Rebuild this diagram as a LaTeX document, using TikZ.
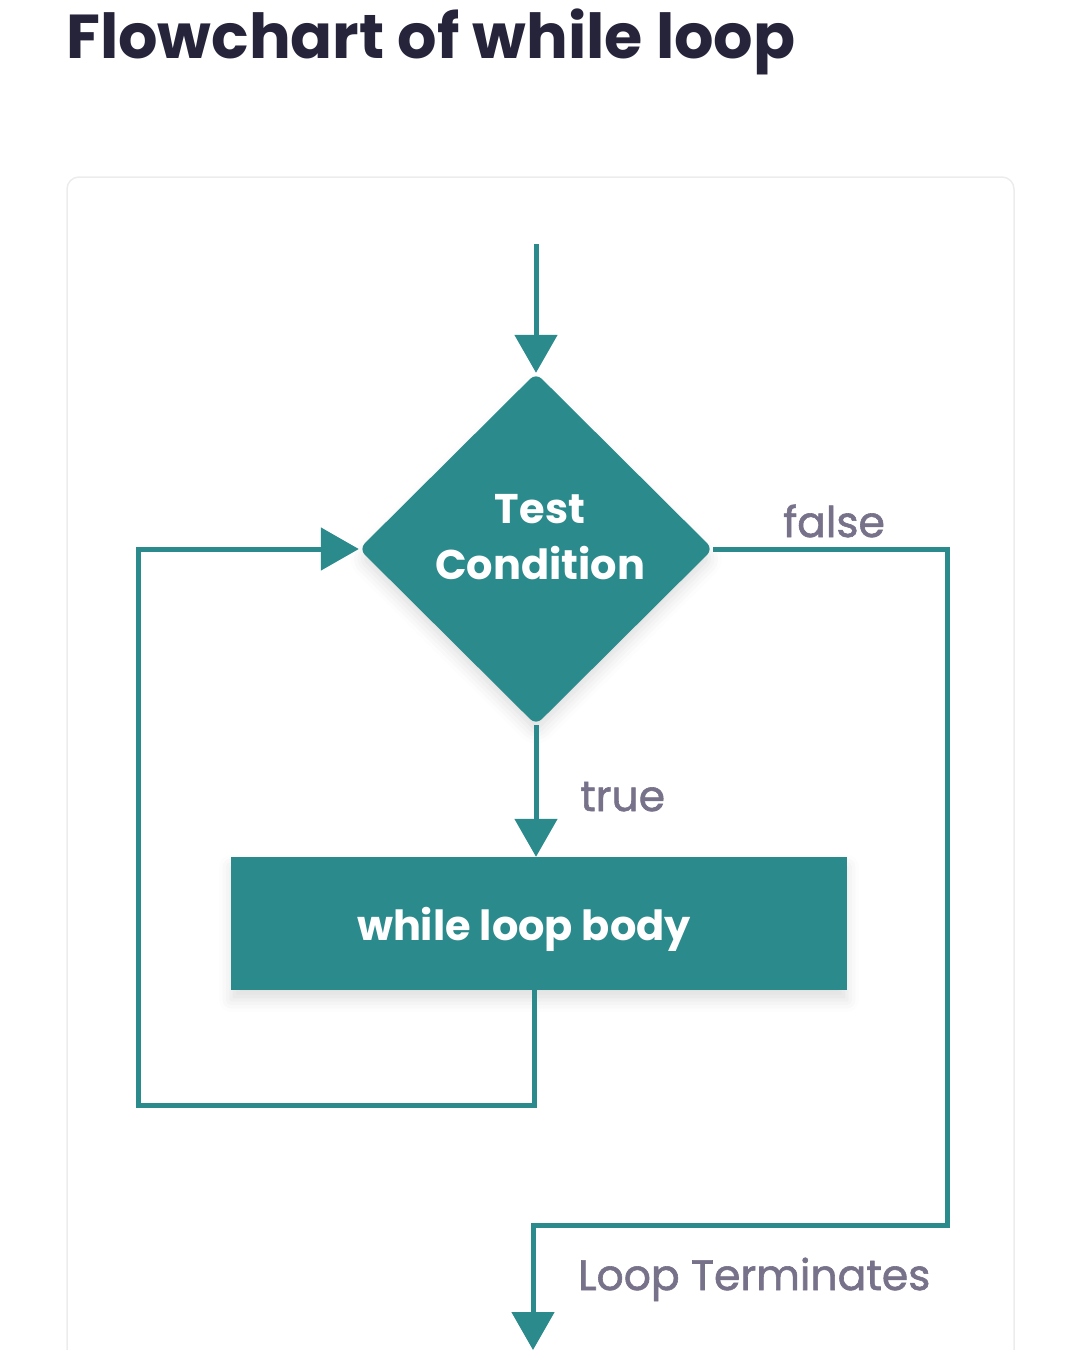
\documentclass[tikz,border=0pt]{standalone}
\usepackage{fontspec}
\setmainfont{Poppins}
\newfontfamily\popmed{Poppins}[FakeBold=1.4]
\usetikzlibrary{arrows.meta, shapes.geometric, positioning, shadows.blur}
\definecolor{loopteal}{HTML}{2B8A8B}
\definecolor{labelgray}{HTML}{77718A}
\definecolor{titleink}{HTML}{25243A}
\definecolor{framegray}{HTML}{ECECEC}

\begin{document}
\begin{tikzpicture}[x=1pt, y=-1pt,
    flow/.style={draw=loopteal, line width=5pt},
    arr/.style={flow, -{Triangle[length=38pt, width=42pt]}},
    soft/.style={blur shadow={shadow xshift=0pt, shadow yshift=-10pt, shadow blur radius=12pt, shadow opacity=12}},
    whitetext/.style={text=white, font=\fontsize{41.5}{56}\selectfont\bfseries, inner sep=0pt, align=center},
    lbl/.style={text=labelgray, font=\fontsize{42.5}{50}\popmed, inner sep=0pt}]

      \path[use as bounding box] (0,0) rectangle (1080,1350);
      \begin{scope}
      \clip (0,0) rectangle (1080,1350);
      \draw[framegray, line width=1.5pt, rounded corners=12pt] (67,1400) -- (67,177) -- (1014,177) -- (1014,1400);
      \end{scope}

      \node[anchor=base west, text=titleink, font=\fontsize{62}{74}\selectfont\bfseries, inner sep=0pt] (title) at (66,58) {Flowchart of while loop};

      \node[diamond, aspect=1, fill=loopteal, minimum width=354pt, minimum height=352pt, inner sep=0pt, rounded corners=8pt, soft] (cond) at (536,549) {};
      \node[whitetext, anchor=base] (condtxt) at (540,579) {Test\\Condition};

      \node[rectangle, fill=loopteal, minimum width=616pt, minimum height=133pt, inner sep=0pt, soft] (body) at (539,923.5) {};
      \node[whitetext, anchor=base] (bodytxt) at (524,940) {while loop body};

      \coordinate (start) at (536,244);
      \coordinate (backL) at (138,1105);
      \coordinate (falseR) at (947,1225);
      \coordinate (finish) at (533,1350);

      \draw[arr] (start) -- (cond.north);
      \draw[arr] (cond.south) -- (cond.south |- body.north);
      \draw[arr] ([xshift=-2pt]body.south -| cond.south) |- (backL) |- (cond.west);
      \draw[arr] (cond.east) -| (falseR) -| (finish);

      \node[lbl, anchor=base west] (falselbl) at (783,537) {false};
      \node[lbl, anchor=base west] (truelbl) at (580,811) {true};
      \node[lbl, anchor=base west] (endlbl) at (578,1290) {Loop Terminates};

    \end{tikzpicture}
\end{document}
